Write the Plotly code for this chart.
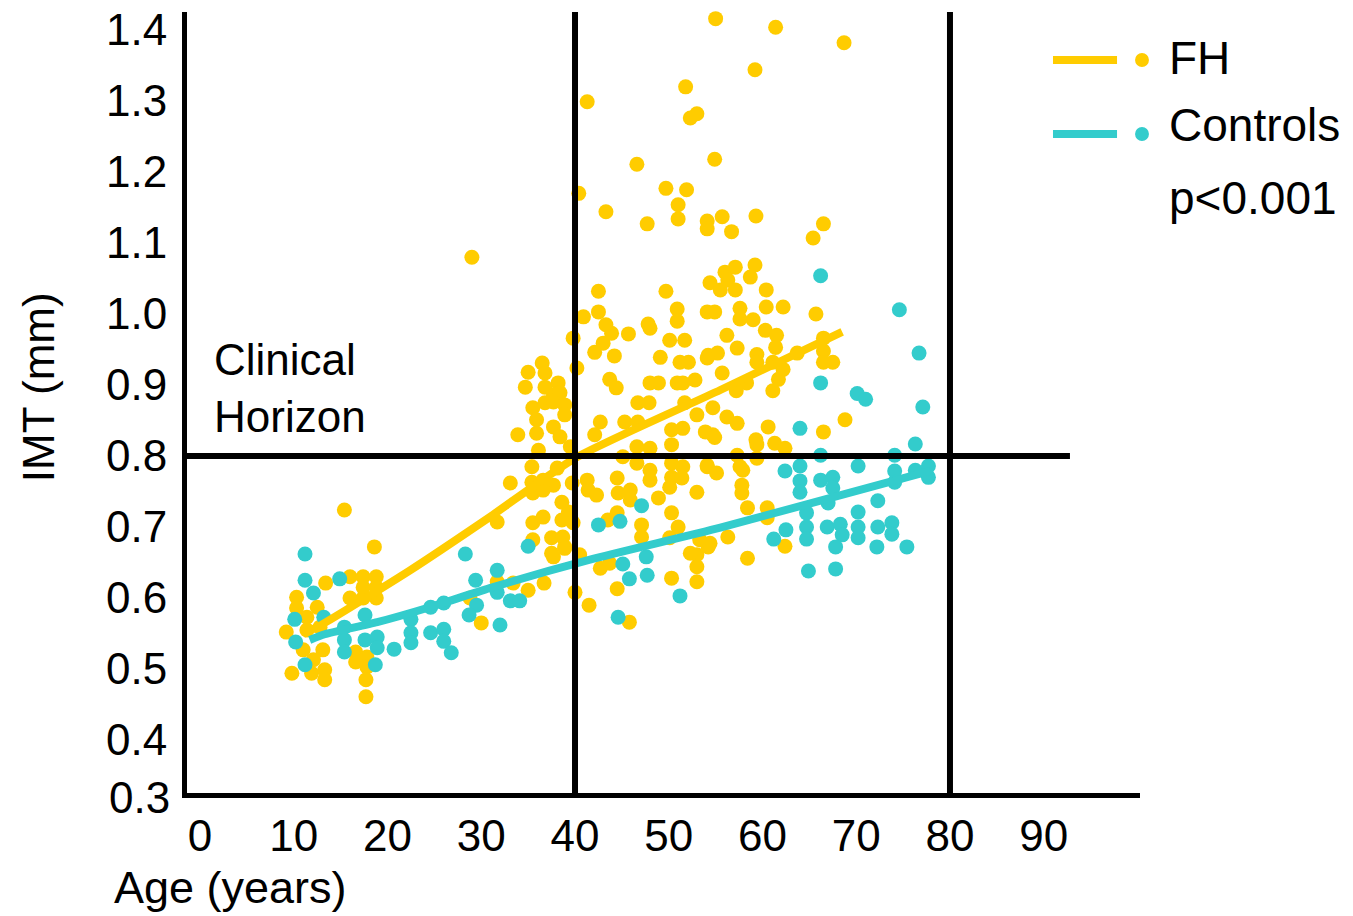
import plotly.graph_objects as go

# ---------------- data ----------------
fh_age = [
    15.4, 18.6, 16.0, 17.4, 18.8, 13.4, 17.4, 18.8, 16.0, 17.4, 18.8, 10.3, 10.3, 12.5, 11.4, 9.2,
    11.4, 12.8, 11.0, 13.1, 12.1, 16.6, 17.8, 16.6, 17.8, 9.8, 11.9, 13.3, 13.3, 17.7, 17.7, 30.0,
    28.8, 31.7, 29.0,
    31.7, 33.4, 35.0, 36.7, 37.7, 38.9, 40.5, 40.0, 41.5, 42.7, 43.7, 44.5, 45.8, 50.3, 53.0, 53.0,
    53.0, 54.2,
    39.8, 42.1, 43.0, 43.9, 45.7, 48.0, 44.2, 50.1, 51.7, 49.1, 51.2, 52.1, 54.2, 55.2, 36.5, 35.0,
    36.8, 40.2, 34.7, 36.8, 38.2, 43.7, 44.4, 48.0, 48.9, 50.9, 51.5, 52.8, 37.7, 38.4, 35.5, 36.8,
    37.7, 38.9, 46.7, 47.9, 51.7, 54.7, 35.9, 38.9, 42.7, 45.3, 46.7, 53.0, 51.5, 50.3, 33.9, 35.9,
    37.7, 38.4, 42.1, 53.9, 54.7, 50.3, 36.1, 39.5, 46.6, 48.0, 45.1, 46.6, 48.0, 50.3, 51.5, 50.3,
    54.1, 35.4, 38.1, 33.1, 35.4, 36.6, 37.7, 39.7, 41.3, 41.4, 42.3, 44.5, 44.6, 45.9, 48.0, 50.1,
    51.4, 53.0, 35.5, 36.6, 38.6, 39.3, 48.9, 35.5, 36.6, 38.6, 39.8, 43.5, 44.5, 45.9, 47.1, 47.1,
    50.3, 51.0, 50.1, 37.5, 38.7, 35.5, 37.5, 38.9, 53.3, 54.4, 52.3,
    41.3, 52.3, 53.0, 46.6, 54.9, 40.4, 49.7, 51.9, 51.0, 43.3, 47.7, 51.0, 54.1, 54.1, 55.7, 42.5,
    49.7, 54.4, 40.9, 42.5, 43.3, 47.8, 50.9, 50.9, 54.1, 54.9,
    55.0, 61.4, 68.7, 59.2, 59.3, 66.5, 56.7, 51.8,
    65.4, 56.0, 57.1, 59.2, 55.5, 56.3, 57.1, 58.7, 60.4, 57.6, 57.6, 59.0, 60.4, 62.2, 65.7, 60.3,
    61.5, 56.2, 57.3, 61.4, 54.1, 59.4, 59.4, 63.7, 66.5, 66.5, 66.5, 67.5, 61.1, 55.7, 62.2, 61.7,
    58.3, 57.2, 61.1, 56.2, 57.3, 60.6, 59.3, 66.5, 68.8,
    54.9, 59.4, 61.3, 62.4, 57.3, 57.6, 57.9, 54.1, 55.1, 59.4, 57.8, 57.8, 58.4, 60.5, 60.5, 56.3,
    62.4, 58.4,
]
fh_imt = [
    0.724, 0.672, 0.630, 0.630, 0.630, 0.621, 0.615, 0.615, 0.600, 0.600, 0.600, 0.601, 0.586, 0.587, 0.573, 0.552,
    0.555, 0.559, 0.527, 0.527, 0.513, 0.524, 0.517, 0.510, 0.503, 0.494, 0.494, 0.499, 0.485, 0.485, 0.461, 0.565,
    0.600, 0.707, 1.080,
    0.623, 0.621, 0.611, 0.621, 0.658, 0.672, 0.661, 0.608, 0.590, 0.642, 0.649, 0.613, 0.566, 0.628, 0.661, 0.644,
    0.623, 0.672,
    0.966, 0.946, 0.959, 0.973, 0.972, 0.980, 0.941, 0.963, 0.963, 0.939, 0.932, 0.932, 0.942, 0.945, 0.931, 0.918,
    0.917, 0.924, 0.897, 0.897, 0.903, 0.908, 0.896, 0.903, 0.903, 0.903, 0.903, 0.907, 0.886, 0.889, 0.868, 0.875,
    0.876, 0.872, 0.875, 0.875, 0.875, 0.868, 0.851, 0.858, 0.848, 0.848, 0.848, 0.858, 0.839, 0.837, 0.830, 0.832,
    0.841, 0.827, 0.830, 0.834, 0.830, 0.816, 0.808, 0.813, 0.813, 0.811, 0.799, 0.790, 0.780, 0.790, 0.785, 0.770,
    0.787, 0.785, 0.783, 0.762, 0.763, 0.766, 0.759, 0.762, 0.766, 0.752, 0.745, 0.769, 0.748, 0.752, 0.766, 0.756,
    0.769, 0.749, 0.748, 0.752, 0.735, 0.721, 0.741, 0.706, 0.714, 0.710, 0.706, 0.710, 0.720, 0.738, 0.703, 0.686,
    0.720, 0.700, 0.685, 0.685, 0.686, 0.682, 0.663, 0.670, 0.682, 0.677, 0.663,
    1.299, 1.276, 1.282, 1.211, 1.218, 1.170, 1.177, 1.175, 1.154, 1.144, 1.127, 1.134, 1.131, 1.120, 1.137, 1.032,
    1.032, 1.044, 0.996, 1.003, 0.985, 0.986, 1.007, 0.990, 1.003, 1.003,
    1.416, 1.404, 1.382, 1.344, 1.138, 1.127, 1.116, 1.320,
    1.107, 1.059, 1.066, 1.069, 1.034, 1.048, 1.034, 1.052, 1.034, 1.008, 0.993, 0.992, 1.010, 1.010, 1.000, 0.977,
    0.970, 0.970, 0.952, 0.953, 0.938, 0.943, 0.932, 0.945, 0.966, 0.948, 0.932, 0.932, 0.932, 0.917, 0.922, 0.908,
    0.903, 0.892, 0.892, 0.855, 0.846, 0.841, 0.823, 0.834, 0.851,
    0.826, 0.816, 0.818, 0.811, 0.801, 0.785, 0.780, 0.785, 0.776, 0.797, 0.759, 0.748, 0.727, 0.727, 0.713, 0.686,
    0.673, 0.656,
]

ctrl_age = [
    11.2, 11.2, 12.1, 14.9, 10.1, 13.2, 17.6, 10.2, 11.2, 15.4, 15.4, 15.4, 17.6, 18.9, 18.9, 18.7,
    20.7, 22.5, 22.5, 22.5, 24.6, 24.6, 26.0, 26.0, 26.0, 26.8, 28.3, 29.4, 29.5, 28.7, 31.7, 32.0,
    31.7, 33.1, 34.1, 35.0, 45.1, 45.8, 47.7, 47.6, 51.2, 44.6, 47.1, 42.5, 44.8,
    66.2, 74.6, 76.7, 66.2, 70.1, 71.0, 77.1, 64.0, 76.3,
    62.4, 64.0, 64.0, 64.0, 66.2, 66.2, 67.5, 67.5, 67.0, 70.2, 74.1, 74.1, 74.1, 76.3, 77.7, 77.7,
    72.3, 64.7, 64.7, 64.7, 62.5, 61.2, 66.9, 68.3, 68.5, 67.8, 70.2, 70.2, 70.2, 72.3, 72.2, 73.8,
    73.8, 75.4, 64.9, 67.8,
]
ctrl_imt = [
    0.662, 0.625, 0.607, 0.627, 0.570, 0.573, 0.576, 0.538, 0.506, 0.559, 0.541, 0.524, 0.541, 0.545, 0.530, 0.506,
    0.528, 0.570, 0.551, 0.537, 0.587, 0.551, 0.593, 0.556, 0.539, 0.523, 0.662, 0.625, 0.590, 0.576, 0.639, 0.562,
    0.608, 0.596, 0.596, 0.673, 0.648, 0.627, 0.632, 0.658, 0.603, 0.573, 0.730, 0.703, 0.708,
    1.054, 1.006, 0.945, 0.903, 0.888, 0.880, 0.869, 0.839, 0.817,
    0.779, 0.786, 0.765, 0.749, 0.801, 0.766, 0.770, 0.755, 0.734, 0.786, 0.801, 0.779, 0.763, 0.780, 0.786, 0.770,
    0.737, 0.720, 0.700, 0.683, 0.696, 0.683, 0.700, 0.704, 0.689, 0.672, 0.721, 0.700, 0.685, 0.700, 0.672, 0.706,
    0.690, 0.672, 0.638, 0.641,
]

# smoothed trend lines
fh_fit_age = [11.0, 13.3, 22.4, 30.9, 40.0, 55.5, 68.5]
fh_fit_imt = [0.549, 0.565, 0.639, 0.714, 0.797, 0.893, 0.975]
ctrl_fit_age = [11.7, 13.3, 18.9, 24.5, 30.9, 41.6, 55.5, 77.9]
ctrl_fit_imt = [0.541, 0.549, 0.566, 0.587, 0.614, 0.654, 0.699, 0.779]

x_ticks = [0, 10, 20, 30, 40, 50, 60, 70, 80, 90]
y_ticks = [0.4, 0.5, 0.6, 0.7, 0.8, 0.9, 1.0, 1.1, 1.2, 1.3, 1.4]
age_cutoffs = [40, 80]
imt_horizon = 0.8

FH_COL = "#FFCC00"
CT_COL = "#33CCCC"
FONT = "Liberation Sans, Arial, sans-serif"

fig = go.Figure()
fig.add_trace(go.Scatter(x=fh_age, y=fh_imt, mode="markers", name="FH",
                         marker=dict(size=15, color=FH_COL, line=dict(width=0)),
                         showlegend=False, cliponaxis=False))
fig.add_trace(go.Scatter(x=ctrl_age, y=ctrl_imt, mode="markers", name="Controls",
                         marker=dict(size=15, color=CT_COL, line=dict(width=0)),
                         showlegend=False, cliponaxis=False))
fig.add_trace(go.Scatter(x=fh_fit_age, y=fh_fit_imt, mode="lines",
                         line=dict(color=FH_COL, width=8, shape="spline", smoothing=0.6),
                         showlegend=False))
fig.add_trace(go.Scatter(x=ctrl_fit_age, y=ctrl_fit_imt, mode="lines",
                         line=dict(color=CT_COL, width=8, shape="spline", smoothing=0.6),
                         showlegend=False))

shapes = []
for a in age_cutoffs:
    shapes.append(dict(type="line", xref="x", yref="paper", x0=a, x1=a, y0=0, y1=1,
                       line=dict(color="black", width=6), layer="above"))
shapes.append(dict(type="line", xref="paper", yref="y", x0=0, x1=0.9265, y0=imt_horizon, y1=imt_horizon,
                   line=dict(color="black", width=6), layer="above"))

# custom legend (line then dot)
leg = [(FH_COL, 0.9385), (CT_COL, 0.8438)]
for col, yy in leg:
    shapes.append(dict(type="line", xref="paper", yref="paper", x0=0.9087, x1=0.9759, y0=yy, y1=yy,
                       line=dict(color=col, width=8)))
    shapes.append(dict(type="circle", xref="paper", yref="paper", x0=0.9948, x1=1.0094,
                       y0=yy - 0.0090, y1=yy + 0.0090, fillcolor=col, line=dict(width=0)))

annotations = [
    dict(text="FH", xref="paper", yref="paper", x=1.0285, y=0.9411, xanchor="left", yanchor="middle",
         showarrow=False, font=dict(size=46, color="black", family=FONT)),
    dict(text="Controls", xref="paper", yref="paper", x=1.0285, y=0.8553, xanchor="left", yanchor="middle",
         showarrow=False, font=dict(size=46, color="black", family=FONT)),
    dict(text="p<0.001", xref="paper", yref="paper", x=1.0285, y=0.7618, xanchor="left", yanchor="middle",
         showarrow=False, font=dict(size=46, color="black", family=FONT)),
    dict(text="Clinical<br>Horizon", xref="paper", yref="paper", x=0.0262, y=0.589, xanchor="left",
         yanchor="top", align="left", showarrow=False, font=dict(size=44, color="black", family=FONT)),
    dict(text="Age (years)", xref="paper", yref="paper", x=0.046, y=-0.121, xanchor="center",
         yanchor="middle", showarrow=False, font=dict(size=45, color="black", family=FONT)),
    dict(text="IMT (mm)", xref="paper", yref="paper", x=-0.155, y=0.52, xanchor="center",
         yanchor="middle", textangle=-90, showarrow=False, font=dict(size=44, color="black", family=FONT)),
    dict(text="0.3", xref="paper", yref="y", x=0, y=0.3254, xanchor="right", yanchor="middle",
         xshift=-15, yshift=-4, showarrow=False, font=dict(size=44, color="black", family=FONT)),
]

fig.update_layout(
    width=1353, height=916,
    margin=dict(l=187, r=213, t=12, b=123, autoexpand=False),
    paper_bgcolor="white", plot_bgcolor="white",
    font=dict(family=FONT, color="black"),
    shapes=shapes, annotations=annotations,
    showlegend=False,
)
fig.update_xaxes(range=[-1.39, 100.27], tickvals=x_ticks, showgrid=False, zeroline=False,
                 showline=True, linecolor="black", linewidth=5, ticks="", automargin=False,
                 tickfont=dict(size=44, color="black", family=FONT), ticklabelstandoff=0)
fig.update_yaxes(range=[0.3254, 1.4254], tickvals=y_ticks, tickformat=".1f", showgrid=False,
                 zeroline=False, showline=True, linecolor="black", linewidth=5, ticks="", automargin=False,
                 tickfont=dict(size=44, color="black", family=FONT), ticklabelstandoff=6)

fig.write_html("out.html")
